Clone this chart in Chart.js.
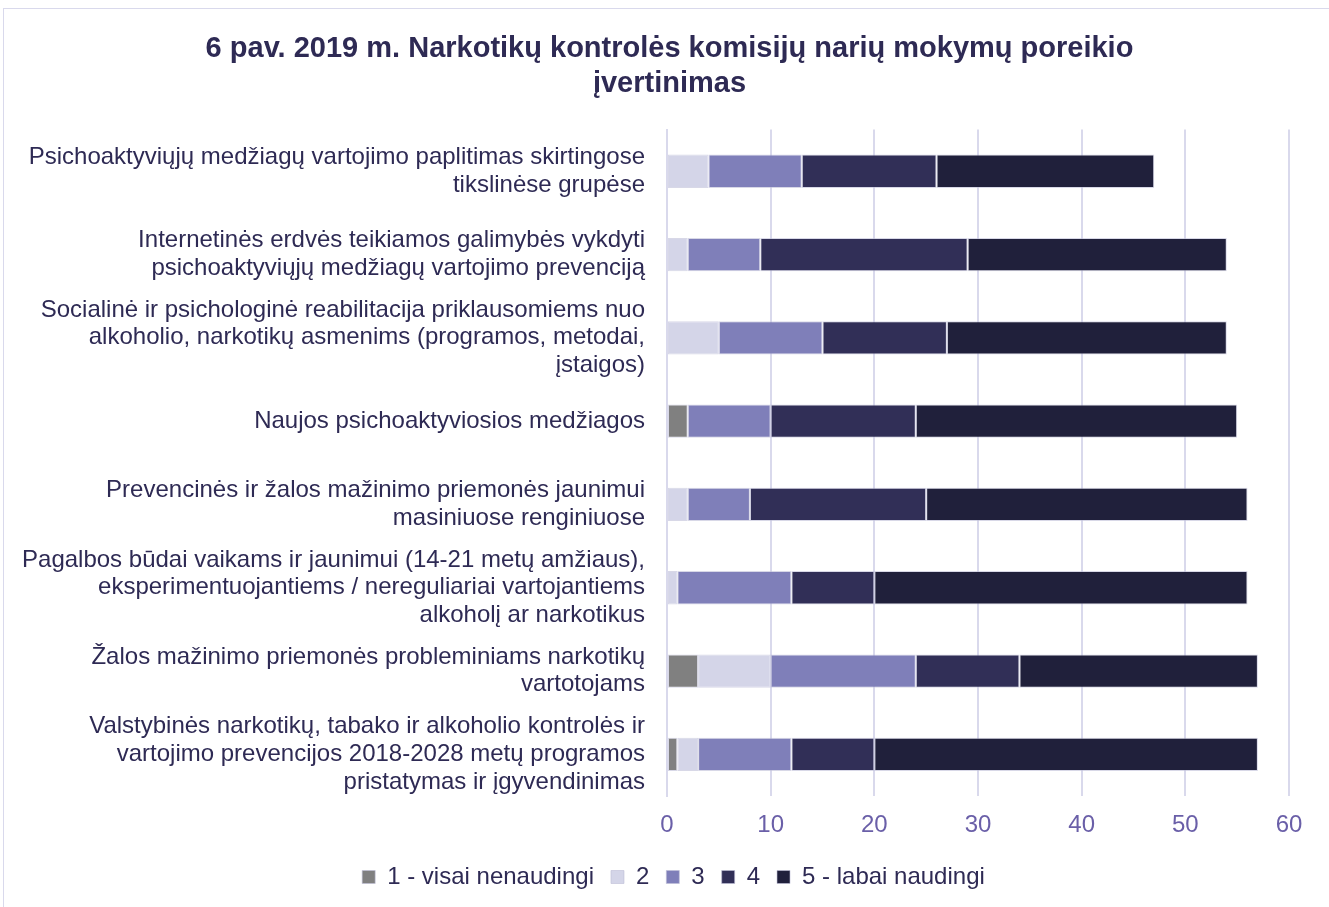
<!DOCTYPE html>
<html>
<head>
<meta charset="utf-8">
<script src="https://cdn.jsdelivr.net/npm/chart.js@4.4.1/dist/chart.umd.min.js"></script>
<style>
  body { margin: 0; background: #fff; }
  #frame { position: absolute; left: 3px; top: 8px; width: 1340px; height: 910px; border: 1px solid #d9d9ec; }
  #wrap { position: absolute; left: 0; top: 0; width: 1329px; height: 907px; }
</style>
</head>
<body>
<div id="frame"></div>
<div id="wrap"><canvas id="chart"></canvas></div>
<script>
// Categories (top to bottom)
const categories = [
    ['Psichoaktyviųjų medžiagų vartojimo paplitimas skirtingose', 'tikslinėse grupėse'],
    ['Internetinės erdvės teikiamos galimybės vykdyti', 'psichoaktyviųjų medžiagų vartojimo prevenciją'],
    ['Socialinė ir psichologinė reabilitacija priklausomiems nuo', 'alkoholio, narkotikų asmenims (programos, metodai,', 'įstaigos)'],
    ['Naujos psichoaktyviosios medžiagos'],
    ['Prevencinės ir žalos mažinimo priemonės jaunimui', 'masiniuose renginiuose'],
    ['Pagalbos būdai vaikams ir jaunimui (14-21 metų amžiaus),', 'eksperimentuojantiems / nereguliariai vartojantiems', 'alkoholį ar narkotikus'],
    ['Žalos mažinimo priemonės probleminiams narkotikų', 'vartotojams'],
    ['Valstybinės narkotikų, tabako ir alkoholio kontrolės ir', 'vartojimo prevencijos 2018-2028 metų programos', 'pristatymas ir įgyvendinimas']
];

const seriesNames = ['1 - visai nenaudingi', '2', '3', '4', '5 - labai naudingi'];
const seriesColors = ['#808080', '#d4d5e8', '#7f7fb9', '#312f57', '#20203b'];

const score1 = [0, 0, 0, 2, 0, 0, 3, 1];
const score2 = [4, 2, 5, 0, 2, 1, 7, 2];
const score3 = [9, 7, 10, 8, 6, 11, 14, 9];
const score4 = [13, 20, 12, 14, 17, 8, 10, 8];
const score5 = [21, 25, 27, 31, 31, 36, 23, 37];

const xTicks = [0, 10, 20, 30, 40, 50, 60];

const seriesData = [score1, score2, score3, score4, score5];

const datasets = seriesNames.map((name, i) => ({
    label: name,
    data: seriesData[i],
    backgroundColor: seriesColors[i],
    borderColor: 'rgba(190, 190, 215, 0.6)',
    borderWidth: 1,
    borderSkipped: false,
    barPercentage: 0.4,
    categoryPercentage: 1.0
}));

const textColor = '#2e2a54';
const tickColor = '#6a5fa8';
const fontFamily = 'Liberation Sans, Arial, sans-serif';

// nudge title and legend to the right so they sit centred like the original
const shiftBoxes = {
    id: 'shiftBoxes',
    afterLayout(chart) {
        if (chart.titleBlock) chart.titleBlock.left += 50;
        if (chart.legend) chart.legend.left += 58;
    }
};

new Chart(document.getElementById('chart'), {
    type: 'bar',
    data: { labels: categories, datasets: datasets },
    plugins: [shiftBoxes],
    options: {
        indexAxis: 'y',
        responsive: true,
        maintainAspectRatio: false,
        animation: false,
        layout: { padding: { left: 0, right: 40, top: 24, bottom: 8 } },
        plugins: {
            title: {
                display: true,
                text: ['6 pav. 2019 m. Narkotikų kontrolės komisijų narių mokymų poreikio', 'įvertinimas'],
                color: textColor,
                font: { family: fontFamily, size: 29, weight: 'bold' },
                lineHeight: 1.1,
                padding: { top: 8, bottom: 28 }
            },
            legend: {
                position: 'bottom',
                labels: {
                    color: textColor,
                    boxWidth: 13,
                    boxHeight: 13,
                    padding: 17,
                    font: { family: fontFamily, size: 24 }
                }
            },
            tooltip: { enabled: false }
        },
        scales: {
            x: {
                stacked: true,
                min: 0,
                max: 60,
                afterBuildTicks: scale => { scale.ticks = xTicks.map(v => ({ value: v })); },
                afterFit: scale => { scale.height = 52; },
                grid: { color: '#d9d9ec', lineWidth: 2, drawTicks: false },
                border: { display: false },
                ticks: {
                    color: tickColor,
                    padding: 15,
                    font: { family: fontFamily, size: 24 }
                }
            },
            y: {
                stacked: true,
                grid: { display: false },
                border: { color: '#d9d9ec', width: 2 },
                afterFit: scale => { scale.width = 667; },
                ticks: {
                    color: textColor,
                    padding: 14,
                    autoSkip: false,
                    font: { family: fontFamily, size: 24, lineHeight: 1.15 }
                }
            }
        }
    }
});
</script>
</body>
</html>
